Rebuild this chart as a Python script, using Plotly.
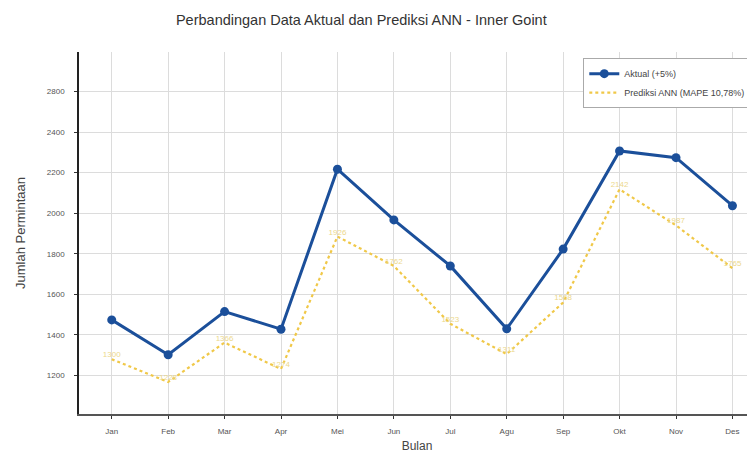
import plotly.graph_objects as go

bulan = ["Jan", "Feb", "Mar", "Apr", "Mei", "Jun", "Jul", "Agu", "Sep", "Okt", "Nov", "Des"]
aktual = [1474, 1302, 1515, 1428, 2217, 1967, 1740, 1430, 1823, 2307, 2274, 2037]
prediksi = [1280, 1168, 1362, 1232, 1885, 1740, 1455, 1305, 1560, 2118, 1940, 1729]
label_prediksi = ["1300", "1228", "1366", "1274", "1926", "1762", "1523", "1311", "1568", "2142", "1987", "1765"]
y_ticks = [1200, 1400, 1600, 1800, 2000, 2200, 2400, 2600]
y_ticktext = ["1200", "1400", "1600", "1800", "2000", "2200", "2400", "2800"]

biru = "#1b4f9a"
kuning = "#f0c848"

fig = go.Figure()

fig.add_trace(go.Scatter(
    x=bulan, y=prediksi,
    mode="lines+text",
    name="Prediksi ANN (MAPE 10,78%)",
    text=label_prediksi,
    textposition="top center",
    textfont={"size": 8, "color": "#ecd88c"},
    line={"color": kuning, "width": 2.2, "dash": "dot"},
))

fig.add_trace(go.Scatter(
    x=bulan, y=aktual,
    mode="lines+markers",
    name="Aktual (+5%)",
    line={"color": biru, "width": 3},
    marker={"size": 9, "color": biru},
))

# page body has an 8px margin, so margins are shifted to compensate
fig.update_layout(
    width=755,
    height=455,
    margin={"l": 71, "r": 8, "t": 44, "b": 49},
    plot_bgcolor="white",
    paper_bgcolor="white",
    font={"family": "Liberation Sans, Arial", "color": "#444"},
    title={
        "text": "Perbandingan Data Aktual dan Prediksi ANN - Inner Goint",
        "x": 0.468, "xanchor": "center",
        "y": 0.974, "yanchor": "middle",
        "font": {"size": 14.5, "color": "#333"},
    },
    showlegend=True,
    legend={
        "x": 0.746, "y": 0.983,
        "xanchor": "left", "yanchor": "top",
        "bgcolor": "white",
        "bordercolor": "#aaa",
        "borderwidth": 1,
        "font": {"size": 9, "color": "#444"},
        "traceorder": "reversed",
        "itemwidth": 30,
        "tracegroupgap": 0,
    },
    xaxis={
        "range": [-0.58, 11.4],
        "showgrid": True,
        "gridcolor": "#dcdcdc",
        "showline": True,
        "linecolor": "#555",
        "linewidth": 2,
        "ticks": "outside",
        "ticklen": 3,
        "tickcolor": "#333",
        "ticklabelstandoff": 5,
        "tickfont": {"size": 8, "color": "#555"},
        "title": {"text": "Bulan", "font": {"size": 12, "color": "#444"}, "standoff": 7},
        "zeroline": False,
    },
    yaxis={
        "range": [1010, 2795],
        "tickvals": y_ticks,
        "ticktext": y_ticktext,
        "showgrid": True,
        "gridcolor": "#dcdcdc",
        "showline": True,
        "linecolor": "#222",
        "linewidth": 1.5,
        "ticks": "outside",
        "ticklen": 3,
        "tickcolor": "#333",
        "ticklabelstandoff": 8,
        "tickfont": {"size": 8, "color": "#555"},
        "title": {"text": "Jumlah Permintaan", "font": {"size": 13, "color": "#444"}, "standoff": 18},
        "zeroline": False,
    },
)

fig.write_html("out.html")
